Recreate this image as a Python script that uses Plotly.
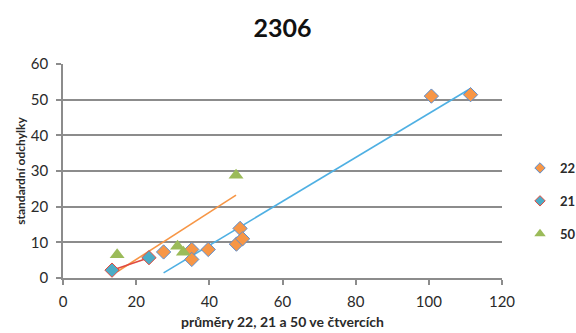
import numpy as np
import plotly.graph_objects as go

# series "22"
x22 = [27.5, 35.2, 35.2, 39.7, 47.4, 48.4, 49.1, 100.7, 111.4]
y22 = [7.3, 8.0, 5.2, 8.0, 9.5, 13.9, 11.0, 51.0, 51.4]
# series "21"
x21 = [13.4, 23.5]
y21 = [2.2, 5.7]
# series "50"
x50 = [14.8, 31.3, 32.9, 47.3]
y50 = [6.5, 8.9, 7.2, 28.8]

x_ticks = [0, 20, 40, 60, 80, 100, 120]
y_ticks = [0, 10, 20, 30, 40, 50, 60]

FONT = "Lato, 'Open Sans', sans-serif"
TXT = "#2a2a2a"
ORANGE = "#F79646"
BLUE_EDGE = "#5B8FD1"
SKY = "#4FB0E3"
RED = "#E04A3F"
GREEN = "#9BBB59"
AXIS = "#8C8C8C"


def trend(xs, ys):
    b, a = np.polyfit(xs, ys, 1)
    xe = np.array([min(xs), max(xs)])
    return xe, a + b * xe


fig = go.Figure()

# linear trendlines over each series' x span
for xs, ys, col in [(x22, y22, SKY), (x50, y50, ORANGE), (x21, y21, RED)]:
    tx, ty = trend(xs, ys)
    fig.add_trace(go.Scatter(x=tx, y=ty, mode="lines", showlegend=False,
                             line=dict(color=col, width=1.6), hoverinfo="skip"))

series = [
    ("22", x22, y22, "diamond", ORANGE, BLUE_EDGE, 11, 1),
    ("21", x21, y21, "diamond", "#4BACC6", RED, 11, 1),
    ("50", x50, y50, "triangle-up", GREEN, GREEN, 13, 0),
]
for i, (name, xs, ys, sym, fill, edge, size, lw) in enumerate(series):
    fig.add_trace(go.Scatter(x=xs, y=ys, mode="markers", name=name, showlegend=False,
                             marker=dict(symbol=sym, size=size, color=fill,
                                         line=dict(color=edge, width=lw))))
    # legend entry with a smaller key symbol
    fig.add_trace(go.Scatter(x=[None], y=[None], mode="markers", name=name,
                             legendgroup=f"g{i}",
                             marker=dict(symbol=sym, size=size - 3, color=fill,
                                         line=dict(color=edge, width=lw))))

fig.update_layout(
    width=576, height=333,
    margin=dict(l=63, r=74, t=64, b=55, autoexpand=False),
    paper_bgcolor="white", plot_bgcolor="white",
    font=dict(family=FONT, size=12, color=TXT),
    title=dict(text="<b>2306</b>", x=0.5, xref="paper", xanchor="center",
               y=1 - 28 / 333, yanchor="middle",
               font=dict(family=FONT, size=25, color="#111111")),
    showlegend=True,
    legend=dict(x=(520 - 63) / 439, xanchor="left", y=(278 - 201) / 214, yanchor="middle",
                font=dict(family=FONT, size=13, color=TXT, weight="bold"),
                tracegroupgap=13, traceorder="grouped",
                bgcolor="rgba(0,0,0,0)"),
)

fig.update_xaxes(range=[0, 120], tickvals=x_ticks, showgrid=False, zeroline=False,
                 showline=True, linecolor=AXIS, linewidth=1.5,
                 ticks="outside", ticklen=5, tickcolor=AXIS, tickwidth=1.5,
                 ticklabelstandoff=4,
                 tickfont=dict(family=FONT, size=15, color=TXT),
                 title=dict(text="<b>průměry 22, 21 a 50 ve čtvercích</b>", standoff=8,
                            font=dict(family=FONT, size=14, color=TXT)))
fig.update_yaxes(range=[0, 60], tickvals=y_ticks, showgrid=True, gridcolor=AXIS,
                 gridwidth=1.5, zeroline=False,
                 showline=True, linecolor=AXIS, linewidth=1.5,
                 ticks="outside", ticklen=5, tickcolor=AXIS, tickwidth=1.5,
                 ticklabelstandoff=5,
                 tickfont=dict(family=FONT, size=15, color=TXT),
                 title=dict(text="<b>standardní odchylky</b>", standoff=3,
                            font=dict(family=FONT, size=12, color=TXT)))

fig.write_html("out.html")
